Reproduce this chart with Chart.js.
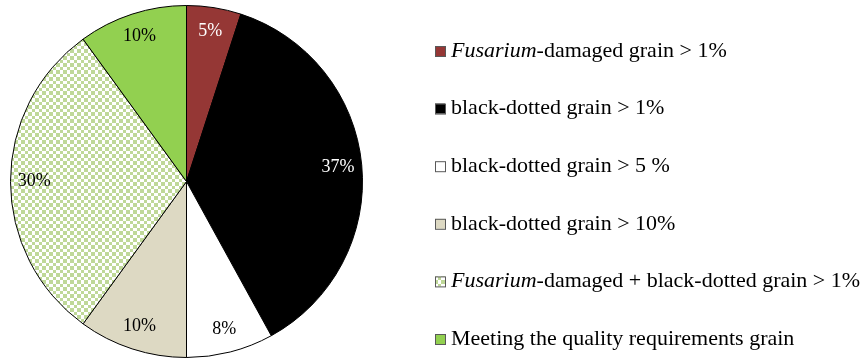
<!DOCTYPE html>
<html lang="en">
<head>
<meta charset="UTF-8">
<title>Grain quality categories</title>
<script src="https://cdn.jsdelivr.net/npm/chart.js@4.4.0/dist/chart.umd.min.js"></script>
<style>
  html, body { margin: 0; padding: 0; background: #fff; }
  #wrap { width: 863px; height: 358px; }
  .preload { font-family: "Liberation Serif"; position: absolute; left: -999px; top: -999px; }
</style>
</head>
<body>
<span class="preload">x<i>x</i></span>
<div id="wrap"><canvas id="pieChart" width="863" height="358"></canvas></div>
<script>
// categories, the italic genus name each one starts with, and the shares (%)
const categories = [
  'Fusarium-damaged grain > 1%',
  'black-dotted grain > 1%',
  'black-dotted grain > 5 %',
  'black-dotted grain > 10%',
  'Fusarium-damaged + black-dotted grain > 1%',
  'Meeting the quality requirements grain'
];
const italicPart = ['Fusarium', '', '', '', 'Fusarium', ''];
const shares = [5, 37, 8, 10, 30, 10];
const sliceColors = ['#953735', '#000000', '#ffffff', '#ddd9c3', 'checker', '#92d050'];
const valueColors = ['#ffffff', '#ffffff', '#000000', '#000000', '#000000', '#000000'];

const serif = '"Liberation Serif", serif';

// small green/white checkerboard used for the mixed category
function checkerPattern(ctx) {
  const c = document.createElement('canvas');
  c.width = 7; c.height = 7;
  const p = c.getContext('2d');
  p.fillStyle = '#ffffff';
  p.fillRect(0, 0, 7, 7);
  p.fillStyle = '#bfd898';
  p.fillRect(0, 0, 4, 4);
  p.fillRect(4, 4, 3, 3);
  return ctx.createPattern(c, 'repeat');
}

const canvas = document.getElementById('pieChart');
const ctx = canvas.getContext('2d');
const pattern = checkerPattern(ctx);
const fills = sliceColors.map(c => c === 'checker' ? pattern : c);

// percentage text inside each slice
const sliceLabels = {
  id: 'sliceLabels',
  afterDatasetsDraw(chart) {
    const c = chart.ctx;
    const arcs = chart.getDatasetMeta(0).data;
    c.save();
    c.font = '18px ' + serif;
    c.textAlign = 'center';
    c.textBaseline = 'middle';
    arcs.forEach((arc, i) => {
      const mid = (arc.startAngle + arc.endAngle) / 2;
      const r = arc.outerRadius * 0.865;
      c.fillStyle = valueColors[i];
      c.fillText(shares[i] + '%', arc.x + Math.cos(mid) * r, arc.y + Math.sin(mid) * r);
    });
    c.restore();
  }
};

// legend on the right, with the genus name in italics
const sideLegend = {
  id: 'sideLegend',
  afterDraw(chart) {
    const c = chart.ctx;
    c.save();
    c.textBaseline = 'middle';
    categories.forEach((label, i) => {
      const y = 51 + i * 57.6;
      c.fillStyle = fills[i];
      c.fillRect(435, y - 5, 10, 10);
      c.strokeStyle = '#595959';
      c.lineWidth = 1;
      c.strokeRect(435.5, y - 4.5, 10, 10);
      let x = 451;
      const it = italicPart[i];
      let rest = label;
      c.fillStyle = '#000';
      if (it) {
        c.font = 'italic 22px ' + serif;
        c.fillText(it, x, y);
        x += c.measureText(it).width;
        rest = label.slice(it.length);
      }
      c.font = '22px ' + serif;
      c.fillText(rest, x, y);
    });
    c.restore();
  }
};

function draw() {
  new Chart(canvas, {
    type: 'pie',
    data: {
      labels: categories,
      datasets: [{
        data: shares,
        backgroundColor: fills,
        borderColor: '#000000',
        borderWidth: 1,
        hoverOffset: 0
      }]
    },
    options: {
      responsive: false,
      animation: false,
      layout: { padding: { left: 10, right: 500, top: 5, bottom: 0 } },
      plugins: {
        legend: { display: false },
        tooltip: { enabled: false }
      }
    },
    plugins: [sliceLabels, sideLegend]
  });
}

Promise.all([
  document.fonts.load('18px "Liberation Serif"'),
  document.fonts.load('italic 22px "Liberation Serif"')
]).then(draw, draw);
</script>
</body>
</html>
